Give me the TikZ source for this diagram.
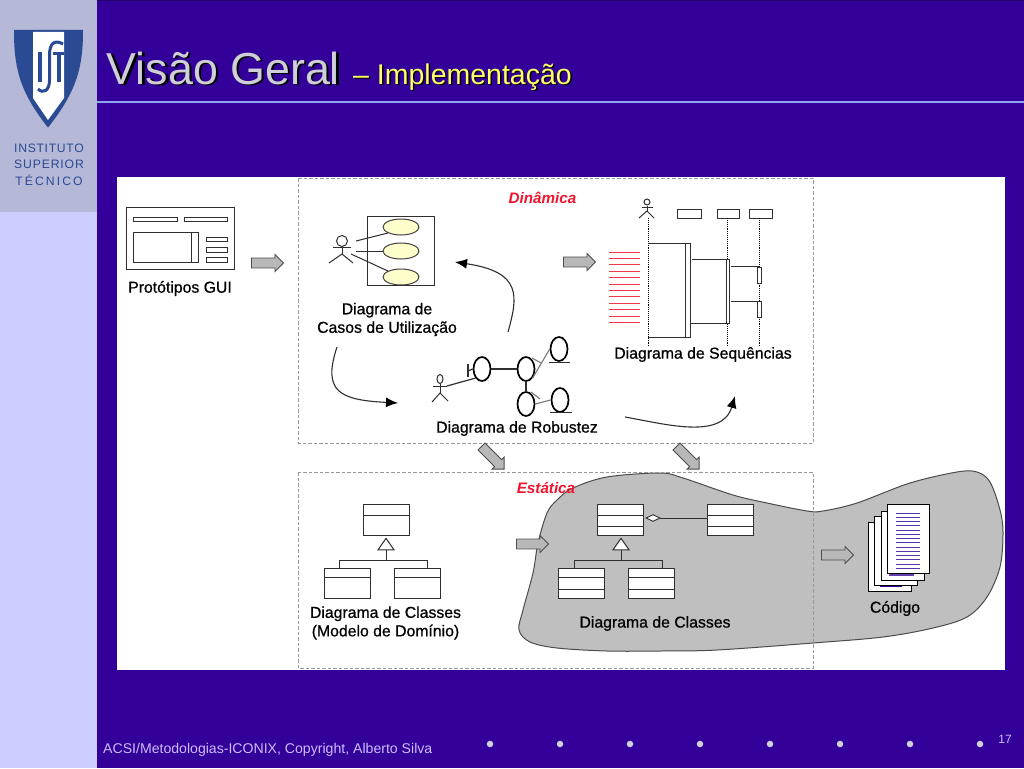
\documentclass[tikz,border=0pt]{standalone}
\usepackage{fontspec}
\setmainfont{Liberation Sans}
\newfontfamily\labfont[FakeBold=0.7]{Liberation Sans}
\newfontfamily\logofonta[LetterSpace=5.5]{Liberation Sans}
\newfontfamily\logofontb[LetterSpace=7]{Liberation Sans}
\newfontfamily\logofontc[LetterSpace=17]{Liberation Sans}
\usetikzlibrary{arrows.meta,shapes.geometric,shapes.arrows,calc}
\definecolor{slidebg}{HTML}{330099}
\definecolor{sidebar}{HTML}{CCCCFF}
\definecolor{logopanel}{HTML}{B5B8D6}
\definecolor{istblue}{HTML}{2B4A94}
\definecolor{rulecol}{HTML}{8FA3F2}
\definecolor{titlecol}{HTML}{CFCFD8}
\definecolor{subcol}{HTML}{FFFF66}
\definecolor{footcol}{HTML}{CDBDFF}
\definecolor{linecol}{HTML}{2F2F2F}
\definecolor{blobcol}{HTML}{BFBFBF}
\definecolor{usecase}{HTML}{FFFFCC}
\definecolor{capred}{HTML}{F0142D}
\tikzset{
  x=1pt,y=-1pt,
  lab/.style={font=\labfont\fontsize{15.8}{18.5}\selectfont,text=black,inner sep=0,align=center},
  caplab/.style={font=\bfseries\itshape\fontsize{15.2}{16}\selectfont,text=capred,inner sep=0},
  dashbox/.style={draw=gray!80,dash pattern=on 3.5pt off 2pt,line width=.9pt},
  bigarrow/.style={single arrow,draw=black!70,fill=black!28,line width=.9pt,inner sep=0,
    minimum width=17pt,minimum height=32pt,single arrow head extend=3.5pt,single arrow head indent=0pt},
  ln/.style={draw=linecol,line width=1pt},
  clsbox/.style={draw=linecol,fill=white,line width=1pt,anchor=north west,inner sep=0,outer sep=0},
  guibox/.style={draw=linecol,fill=white,line width=1pt,anchor=north west,inner sep=0,outer sep=0},
  ucase/.style={ellipse,draw=black!75,fill=usecase,line width=1pt,inner sep=0,minimum width=36pt,minimum height=16pt},
  rob/.style={ellipse,draw=black,line width=1.7pt,inner sep=0,minimum width=17pt,minimum height=24pt},
  flow/.style={draw=linecol,line width=1.1pt,-{Latex[length=12pt,width=10pt,color=black]}},
  bullet/.style={circle,fill=#1,inner sep=0,minimum size=6.5pt},
  page/.style={draw=black,fill=white,line width=.9pt,anchor=north west,inner sep=0,outer sep=0},
}
\newcommand{\cbox}[5]{\node[clsbox,minimum width=#4pt,minimum height=#5pt] (#1) at (#2,#3) {};}
\newcommand{\gbox}[5]{\node[guibox,minimum width=#4pt,minimum height=#5pt] (#1) at (#2,#3) {};}
\newcommand{\cdiv}[2]{\draw[ln] (#1.west |- 0,#2) -- (#1.east |- 0,#2);}
\newcommand{\shaft}{\rule{0pt}{9pt}}
\begin{document}
\begin{tikzpicture}
\useasboundingbox (0,0) rectangle (1024,768);
% slide background
\fill[slidebg] (0,0) rectangle (1024,768);
\fill[slidebg!70!black] (0,0) rectangle (1024,1.2);
\fill[sidebar] (0,0) rectangle (97,768);
\fill[logopanel] (0,0) rectangle (97,212);
% logo
\fill[istblue] (14,30) -- (83,30) .. controls (83,65) and (78,90) .. (48,127.5) .. controls (18,90) and (14,65) .. (14,30) -- cycle;
\fill[white] (33,32) -- (64,32) -- (64,98) -- (48,120) -- (33,98) -- cycle;
\fill[istblue] (38,52) rectangle (42,82);
\fill[istblue] (53,52) rectangle (64,55.5);
\fill[istblue] (56.5,52) rectangle (60.5,82);
\draw[istblue,line width=3pt] (63,44) .. controls (54,39) and (49.5,44) .. (49.5,55) -- (49.5,80) .. controls (49.5,91) and (43,94) .. (38,89);
\node[font=\logofonta\fontsize{12.2}{12}\selectfont,text=istblue,inner sep=0] (logoa) at (49,148) {INSTITUTO};
\node[font=\logofontb\fontsize{12.2}{12}\selectfont,text=istblue,inner sep=0] (logob) at (49,164) {SUPERIOR};
\node[font=\logofontc\fontsize{12.2}{12}\selectfont,text=istblue,inner sep=0] (logoc) at (49,180) {TÉCNICO};
% title
\node[font=\fontsize{44.8}{50}\selectfont,text=black,anchor=base west,inner sep=0] (titleshadow) at (108.8,85.6) {Visão Geral};
\node[font=\fontsize{44.8}{50}\selectfont,text=titlecol,anchor=base west,inner sep=0] (title) at (106.5,84) {Visão Geral};
\node[font=\fontsize{28.5}{30}\selectfont,text=black,anchor=base west,inner sep=0] (subshadow) at (354.5,85) {– Implementação};
\node[font=\fontsize{28.5}{30}\selectfont,text=subcol,anchor=base west,inner sep=0] (sub) at (353,84) {– Implementação};
\fill[rulecol] (97,101) rectangle (1024,103);
% footer
\node[font=\fontsize{14.1}{16}\selectfont,text=footcol,anchor=base west,inner sep=0] (foot) at (103,753) {ACSI/Metodologias-ICONIX, Copyright, Alberto Silva};
\node[font=\fontsize{12}{14}\selectfont,text=footcol,anchor=base east,inner sep=0] (pagenum) at (1012,743) {17};
\foreach \i/\px in {1/490,2/560,3/630,4/700,5/770,6/840,7/910,8/980}
  \node[bullet=titlecol!95!white] (b\i) at (\px,744) {};
% white panel
\fill[white] (117,177) rectangle (1005,670);
% blob
\draw[fill=blobcol,draw=black!70,line width=1pt] plot[smooth cycle,tension=.55] coordinates {
 (573,488) (607,477) (660,473) (683,478) (733,495) (767,503) (807,511) (823,511) (857,503)
 (910,483) (957,472) (977,472) (990,482) (1000,510) (1003,533) (1000,567) (987,597) (967,617)
 (933,628) (883,637) (813,643) (717,650) (660,651) (607,651) (557,648) (530,642) (519,630)
 (523,610) (533,573) (538,543) (547,513) (557,500)};
% dashed frames
\draw[dashbox] (298,178) rectangle (813,443);
\draw[dashbox] (298,472) rectangle (813,668);
\node[caplab] (din) at (542.5,198) {Dinâmica};
\node[caplab] (est) at (546,488) {Estática};
% GUI prototype
\gbox{gui}{126}{207}{108}{62}
\gbox{guia}{133}{217}{44}{4.5}
\gbox{guib}{184}{217}{43}{4.5}
\gbox{guic}{133}{232}{65}{30}
\draw[ln] (191,232) -- (191,262);
\gbox{guid}{206}{237}{21}{4.5}
\gbox{guie}{206}{247}{21}{5}
\gbox{guif}{206}{257}{21}{5}
\node[lab] (guilab) at (180,288.5) {Protótipos GUI};
% block arrows
\node[bigarrow] (ara) at (265,263) {\shaft};
\node[bigarrow] (arb) at (577,262) {\shaft};
\node[bigarrow,rotate=-45] (arc) at (491,456) {\shaft};
\node[bigarrow,rotate=-45] (ard) at (686,456) {\shaft};
\node[bigarrow] (are) at (530,544) {\shaft};
\node[bigarrow] (arf) at (835,555) {\shaft};
% use case diagram
\gbox{ucbox}{367}{216}{67}{69}
\node[ucase] (uca) at (401,227) {};
\node[ucase] (ucb) at (401,251) {};
\node[ucase] (ucc) at (401,277) {};
\node[circle,ln,inner sep=0,minimum size=11pt] (ahead) at (342,241) {};
\coordinate (abody) at (342,254);
\draw[ln] (ahead.south) -- (abody);
\draw[ln] (333,247) -- (351,247);
\draw[ln] (329,263) -- (abody) -- (353,263);
\coordinate (asa) at (356,241);
\coordinate (asb) at (356,251);
\coordinate (asc) at (351,254);
\draw[ln] (asa) -- (uca.south west);
\draw[ln] (asb) -- (ucb.west);
\draw[ln] (asc) -- (ucc.north west);
\node[lab] (uclab) at (387,319.5) {Diagrama de\\Casos de Utilização};
% robustness diagram
\node[ellipse,ln,inner sep=0,minimum width=6pt,minimum height=9pt] (rhead) at (440,379) {};
\coordinate (rbody) at (440,393);
\coordinate (rarm) at (447,386);
\draw[ln] (rhead.south) -- (rbody);
\draw[ln] (433,386) -- (rarm);
\draw[ln] (432,402) -- (rbody) -- (448,401);
\node[rob] (ra) at (482,369) {};
\node[rob] (rb) at (526,369) {};
\node[rob] (rc) at (559,349) {};
\node[rob] (rd) at (526,404) {};
\node[rob] (re) at (560,400) {};
\draw[ln,line width=1.2pt] (468,364) -- (468,377);
\draw[ln,line width=1.2pt] (468,371) -- (ra.west);
\draw[ln,line width=1.2pt] (rarm) -- (ra.south west);
\draw[ln,line width=1.2pt] (ra.east) -- (rb.west);
\draw[ln,line width=1.2pt] (rb.south) -- (rd.north);
\draw[ln,gray,line width=1.2pt] (rb.south east) -- (rc.west);
\draw[ln,gray,line width=1.2pt] (532,358) -- (541,363);
\draw[ln,gray,line width=1.2pt] (rd.east) -- (re.west);
\draw[ln,gray,line width=1.2pt] (531,392) -- (540,399);
\draw[ln] (549,362) -- (570,362);
\draw[ln] (550,412) -- (572,412);
\node[lab] (rlab) at (517,428.5) {Diagrama de Robustez};
% flow curves
\coordinate (fa) at (508,332);
\coordinate (fat) at (455,262);
\coordinate (fb) at (337,347);
\coordinate (fbt) at (398,403);
\coordinate (fc) at (625,417);
\coordinate (fct) at (735,396);
\draw[flow] (fa) .. controls (518,296) and (522,272) .. (fat);
\draw[flow] (fb) .. controls (322,392) and (340,400) .. (fbt);
\draw[flow] (fc) .. controls (665,424) and (722,440) .. (fct);
% sequence diagram
\foreach \i in {0,...,11}
  \draw[capred!85,line width=.9pt] (609,252+6.4*\i) -- (640,252+6.4*\i);
\node[circle,ln,inner sep=0,minimum size=6pt] (shead) at (647,202) {};
\coordinate (sbody) at (647,211);
\draw[ln] (shead.south) -- (sbody);
\draw[ln] (642,207) -- (653,207);
\draw[ln] (639,218) -- (sbody) -- (654,218);
\gbox{sb}{677}{209}{24}{9}
\gbox{sc}{717}{209}{22}{9}
\gbox{sd}{749}{209}{23}{9}
\coordinate (lla) at (648,347);
\coordinate (llb) at (727,347);
\coordinate (llc) at (759,347);
\draw[black,densely dotted,line width=.9pt] (648,218) -- (lla);
\draw[black,densely dotted,line width=.9pt] (sc.south -| 727,0) -- (llb);
\draw[black,densely dotted,line width=.9pt] (sd.south -| 759,0) -- (llc);
\gbox{acta}{685}{243}{5.5}{94}
\gbox{actb}{726}{259}{3.5}{64}
\gbox{actc}{757}{267}{4.5}{16}
\gbox{actd}{757}{301}{4.5}{16}
\draw[ln] (648,243) -- (acta.north west);
\draw[ln] (648,337) -- (acta.south west);
\draw[ln] (692,259) -- (actb.north west);
\draw[ln] (690,323) -- (actb.south west);
\draw[ln] (731,266) -- (759,266);
\draw[ln] (731,301) -- (actd.north west);
\node[lab] (slab) at (703,354.5) {Diagrama de Sequências};
% class diagram, left
\cbox{ka}{363}{504}{46}{31}
\cdiv{ka}{515}
\cbox{kb}{324}{568}{46}{30}
\cdiv{kb}{577}
\cbox{kc}{394}{568}{46}{30}
\cdiv{kc}{577}
\node[isosceles triangle,isosceles triangle apex angle=70,shape border rotate=90,draw=linecol,fill=white,line width=1pt,inner sep=0,minimum height=8pt,minimum width=16pt,anchor=apex] (kt) at (386,537.5) {};
\coordinate (kj) at (386,560);
\draw[ln] (kt.south) -- (kj);
\draw[ln] (kb.north -| 339,0) -- (339,560) -- (427,560) -- (kc.north -| 427,0);
\node[lab] (klab) at (385.5,623) {Diagrama de Classes\\(Modelo de Domínio)};
% class diagram, right
\cbox{la}{597}{504}{46}{31}
\cdiv{la}{515}\cdiv{la}{526}
\cbox{lb}{558}{568}{46}{30}
\cdiv{lb}{577}\cdiv{lb}{589}
\cbox{lc}{628}{568}{46}{30}
\cdiv{lc}{577}\cdiv{lc}{589}
\cbox{ld}{707}{504}{46}{31}
\cdiv{ld}{515}\cdiv{ld}{526}
\node[isosceles triangle,isosceles triangle apex angle=70,shape border rotate=90,draw=linecol,fill=white,line width=1pt,inner sep=0,minimum height=8pt,minimum width=16pt,anchor=apex] (lt) at (621,537.5) {};
\coordinate (lj) at (621,560);
\draw[ln] (lt.south) -- (lj);
\draw[ln] (lb.north -| 574,0) -- (574,560) -- (662,560) -- (lc.north -| 662,0);
\node[diamond,draw=linecol,fill=white,line width=.9pt,inner sep=0,minimum width=14pt,minimum height=7pt] (lm) at (653,518) {};
\draw[ln] (lm.east) -- (ld.west |- lm.east);
\node[lab] (llab) at (655,623.5) {Diagrama de Classes};
% code
\node[page,minimum width=43pt,minimum height=69pt] (pa) at (868,522) {};
\draw[slidebg,line width=1.2pt] (880,586) -- (902,586);
\node[page,minimum width=43pt,minimum height=69pt] (pb) at (874,516) {};
\node[page,minimum width=43pt,minimum height=69pt] (pc) at (881,511) {};
\draw[slidebg!75,line width=1.2pt] (889,575) -- (914,575);
\node[page,minimum width=42pt,minimum height=69pt] (pd) at (887,504) {};
\foreach \i in {0,...,13}
  \draw[slidebg!80,line width=1pt] (896,513+4.25*\i) -- (920,513+4.25*\i);
\node[lab] (clab) at (895,608.5) {Código};
\end{tikzpicture}
\end{document}
